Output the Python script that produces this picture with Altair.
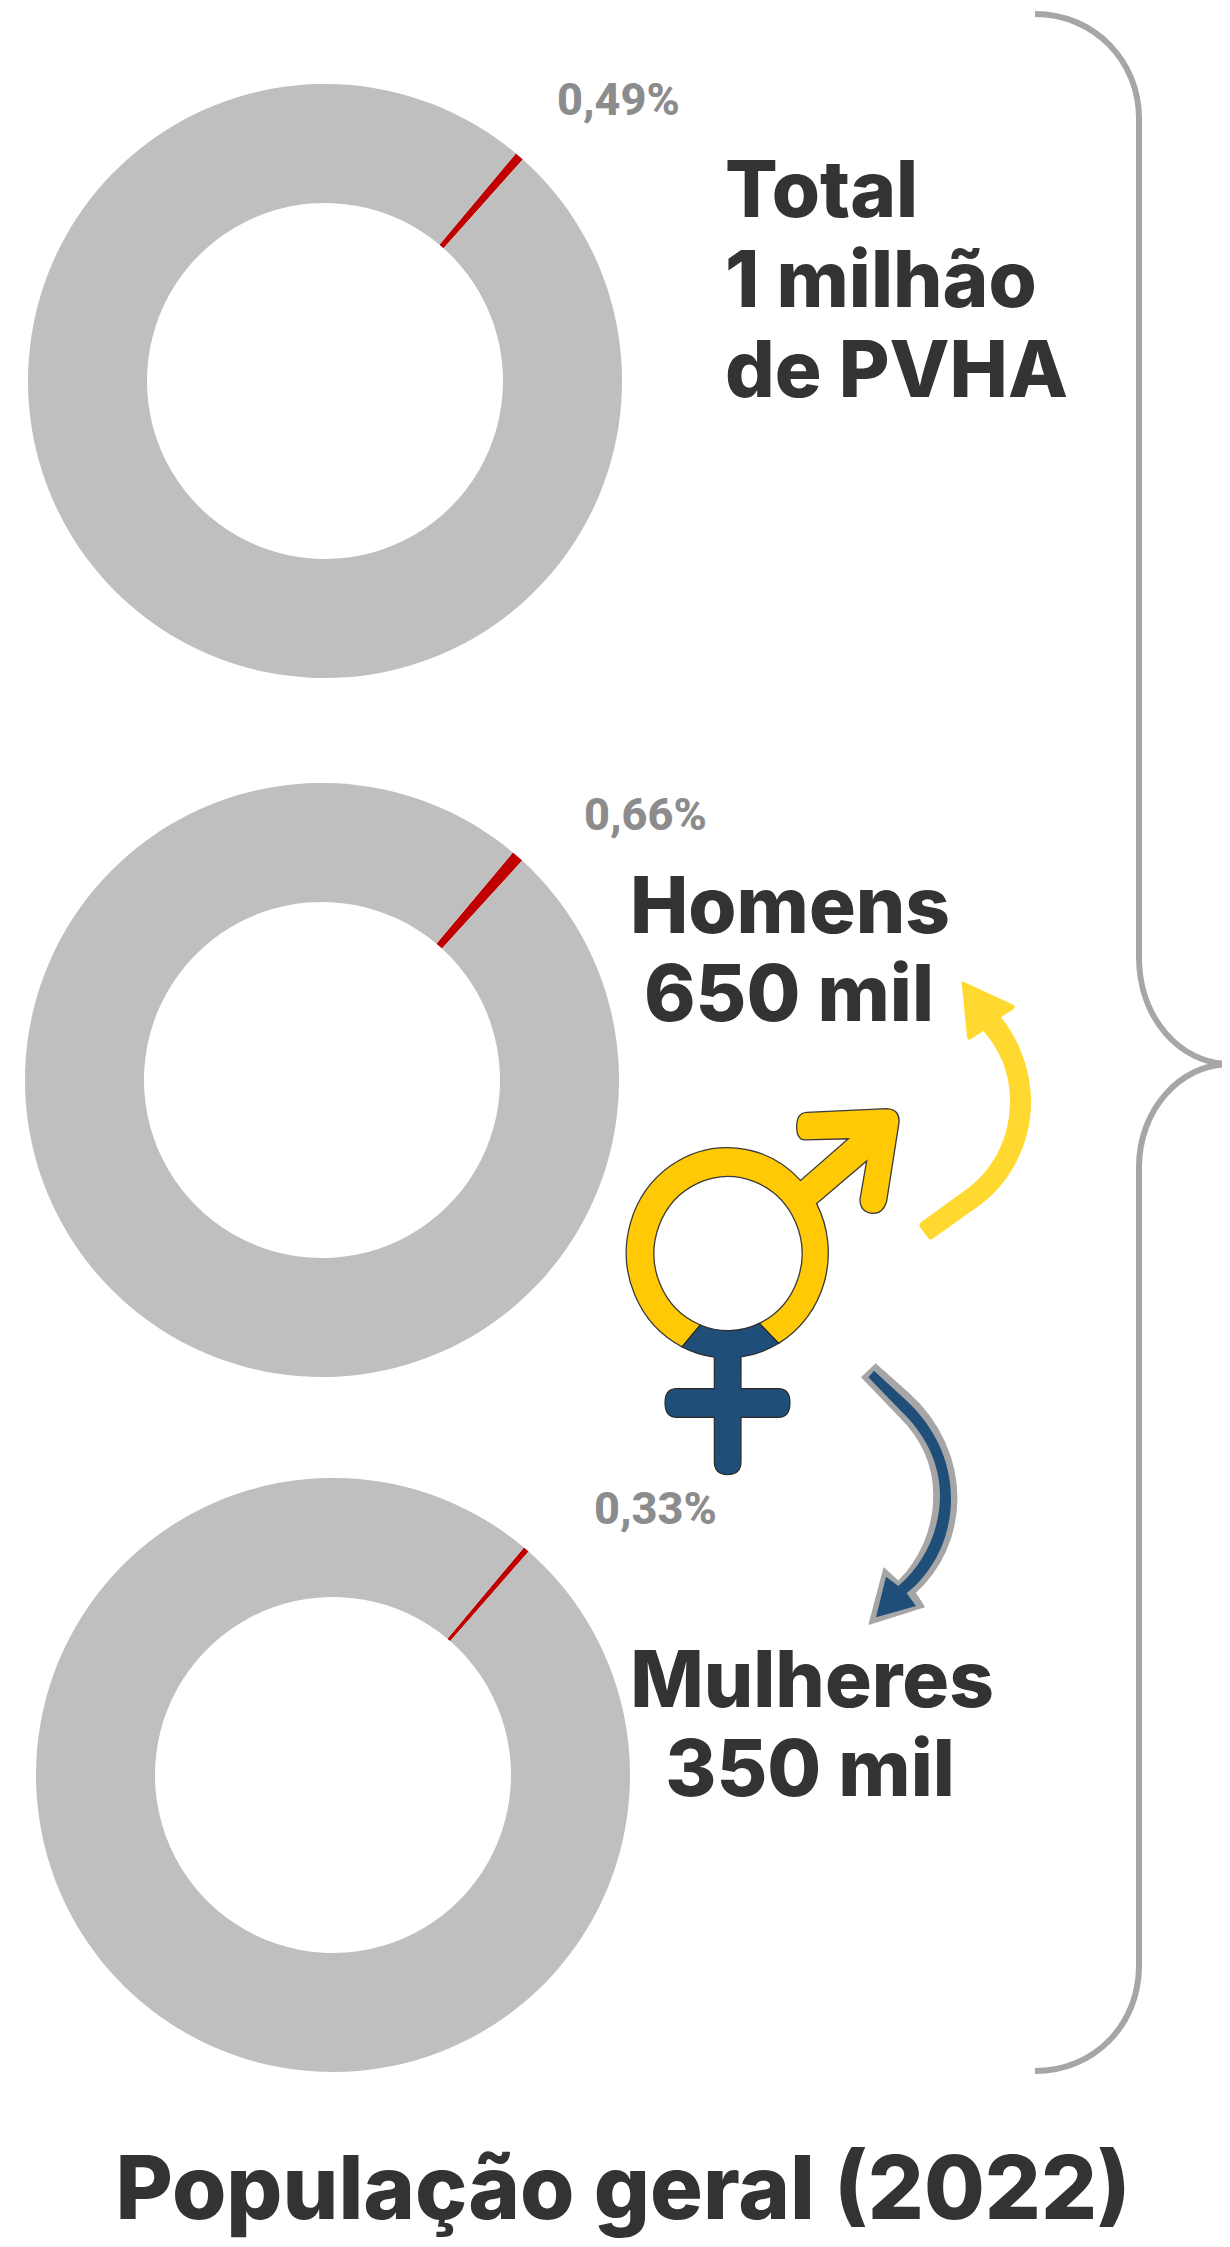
import math
import re
import altair as alt
import pandas as pd

# ---- values
groups = ["Total", "Homens", "Mulheres"]
shares = [0.49, 0.66, 0.33]
share_labels = ["0,49%", "0,66%", "0,33%"]
part_names = ["HIV", "Restante"]

donut_x = [325, 322, 333]
donut_y = [381, 1080, 1775]
label_x = [557, 584, 594]
label_y = [115, 830, 1524]

head_lines = ["Total", "1 milhão", "de PVHA"]
head_x = [725, 725, 725]
head_y = [217, 307, 397]
side_lines = ["Homens", "650 mil", "Mulheres", "350 mil"]
side_x = [790, 789, 812, 810]
side_y = [933, 1021, 1707, 1796]
footer = ["População geral (2022)"]

START_DEG = 40
OUTER, INNER = 297, 178
HEAD_FONT = "Inter"
HEAD_SIZE = 78
FOOT_SIZE = 88


# ---- decoration outlines (page pixels)
def remap(path, ox, oy, sx, sy):
    n = {"i": 0}

    def sub(m):
        v = float(m.group(0))
        r = ox + v / sx if n["i"] % 2 == 0 else oy + v / sy
        n["i"] += 1
        return f"{r:.2f}"

    return re.sub(r"-?\d+\.?\d*", sub, path)


def arc(cx, cy, rx, ry, a0, a1, move=None):
    a0, a1 = math.radians(a0), math.radians(a1)
    steps = max(1, math.ceil(abs(a1 - a0) / (math.pi / 4)))
    da = (a1 - a0) / steps
    k = 4 / 3 * math.tan(da / 4)
    head = ""
    if move:
        head = f"{move}{cx + rx * math.cos(a0):.2f} {cy + ry * math.sin(a0):.2f} "
    parts = [head]
    for i in range(steps):
        t0, t1 = a0 + i * da, a0 + (i + 1) * da
        parts.append(
            "C{:.2f} {:.2f} {:.2f} {:.2f} {:.2f} {:.2f} ".format(
                cx + rx * (math.cos(t0) - k * math.sin(t0)),
                cy + ry * (math.sin(t0) + k * math.cos(t0)),
                cx + rx * (math.cos(t1) + k * math.sin(t1)),
                cy + ry * (math.sin(t1) - k * math.cos(t1)),
                cx + rx * math.cos(t1),
                cy + ry * math.sin(t1),
            )
        )
    return "".join(parts)


SX, SY = 3, 1568 / 600
z = lambda p: remap(p, 600, 1050, SX, SY)
OC = (727.3, 1252.8, 101, 105.2)
IC = (728, 1253.6, 74, 77)

YELLOW_GLYPH = (
    arc(*OC, -28, 59.4, "M")
    + arc(*IC, 65, -248, "L")
    + arc(*OC, 116.6, 316.5, "L")
    + z(
        "L745 232 L615 235 Q590 235 590 200 Q590 165 620 163 L860 153 Q900 155 897 190 "
        "L860 395 Q850 427 820 427 Q780 425 780 390 L800 290 L652 400 "
    )
    + "Z"
)
BLUE_GLYPH = (
    arc(*OC, 59.4, 82.2, "M")
    + z(
        "L423 885 L535 885 Q570 885 570 922 Q570 960 535 960 L423 960 L423 1075 "
        "Q423 1110 383 1110 Q343 1110 343 1075 L343 960 L230 960 Q195 960 195 922 "
        "Q195 885 230 885 L343 885 "
    )
    + arc(*OC, 97.4, 116.6, "L")
    + arc(*IC, 112, 65, "L")
    + "Z"
)
BLUE_ARROW_EDGE = remap(
    "M36 82 L77 43 L175 130 C270 215 320 330 320 445 C320 560 270 660 195 728 L222 770 "
    "L58 822 L102 655 L145 695 C210 630 252 540 252 435 C252 345 215 265 150 200 Z",
    850, 1350, 3, 3,
)
BLUE_ARROW = remap(
    "M55 82 L72 62 L165 148 C255 230 303 335 303 445 C303 565 250 665 170 730 L198 768 "
    "L78 802 L108 680 L145 708 C225 640 270 540 270 435 C270 340 225 250 150 180 Z",
    850, 1350, 3, 3,
)
YELLOW_ARROW = remap(
    "M185 68 Q180 62 192 66 L340 134 Q348 140 342 146 L303 172 C365 250 393 340 393 430 "
    "C393 550 330 670 240 735 L100 835 Q90 842 85 835 L60 802 Q55 792 65 785 L210 680 "
    "C285 620 330 530 330 420 C330 340 300 270 250 213 L212 238 Q203 243 201 232 Z",
    900, 960, 3, 3,
)
BRACE = (
    "M1035 14 C1095 14 1139 62 1139 118 L1139 957 C1139 1018 1180 1064 1230 1064 "
    "C1180 1064 1139 1110 1139 1167 L1139 1966 C1139 2024 1095 2071 1035 2071"
)

X = alt.Scale(domain=[8, 1222], range=[0, 1214])
Y = alt.Scale(domain=[8, 2239], range=[0, 2231])
THETA = alt.Scale(
    domain=[0, 100],
    range=[math.radians(START_DEG), math.radians(START_DEG) + 2 * math.pi],
)
ANCHOR = alt.Data(values=[{"a": 1}])


def decor(path, **kw):
    return alt.Chart(ANCHOR).mark_point(shape=path, size=4, opacity=1, **kw).encode(
        x=alt.value(-8), y=alt.value(-8)
    )


layers = []
for g, s, cx, cy in zip(groups, shares, donut_x, donut_y):
    d = pd.DataFrame(
        {
            "grupo": g,
            "parte": part_names,
            "ordem": [0, 1],
            "valor": [s, 100 - s],
            "cx": cx,
            "cy": cy,
        }
    )
    layers.append(
        alt.Chart(d)
        .mark_arc(radius=OUTER, radius2=INNER, stroke=None)
        .encode(
            x=alt.X("cx:Q", scale=X, axis=None),
            y=alt.Y("cy:Q", scale=Y, axis=None),
            theta=alt.Theta("valor:Q", stack=True, scale=THETA),
            order=alt.Order("ordem:O"),
            color=alt.Color(
                "parte:N",
                scale=alt.Scale(domain=part_names, range=["#C00000", "#BFBFBF"]),
                legend=None,
            ),
        )
    )


def text_layer(lines, xs, ys, **kw):
    d = pd.DataFrame({"t": lines, "x": xs, "y": ys})
    return (
        alt.Chart(d)
        .mark_text(baseline="alphabetic", **kw)
        .encode(
            x=alt.X("x:Q", scale=X, axis=None),
            y=alt.Y("y:Q", scale=Y, axis=None),
            text="t:N",
        )
    )


layers += [
    text_layer(share_labels, label_x, label_y, align="left", font="Roboto",
               fontWeight=800, fontSize=45, color="#8C8C8C"),
    text_layer(head_lines, head_x, head_y, align="left", font=HEAD_FONT,
               fontWeight=800, fontSize=HEAD_SIZE, color="#333333"),
    text_layer(side_lines, side_x, side_y, align="center", font=HEAD_FONT,
               fontWeight=800, fontSize=HEAD_SIZE, color="#333333"),
    text_layer(footer, [623], [2219], align="center", font=HEAD_FONT,
               fontWeight=800, fontSize=FOOT_SIZE, color="#333333"),
    decor(BRACE, filled=False, stroke="#A6A6A6", strokeWidth=6),
    decor(YELLOW_ARROW, filled=True, fill="#FFD92F", stroke=None),
    decor(BLUE_ARROW_EDGE, filled=True, fill="#A6A6A6", stroke="#A6A6A6", strokeWidth=1.5,
          strokeJoin="round"),
    decor(BLUE_ARROW, filled=True, fill="#1F4E79", stroke=None),
    decor(YELLOW_GLYPH, filled=True, fill="#FFC905", stroke="#3A3A3A", strokeWidth=1.3),
    decor(BLUE_GLYPH, filled=True, fill="#1F4E79", stroke="#2A2A2A", strokeWidth=1.2),
]

chart = (
    alt.layer(*layers)
    .resolve_scale(color="independent")
    .properties(
        width=1214,
        height=2231,
        padding=0,
        autosize=alt.AutoSizeParams(type="none"),
        background="white",
    )
    .configure_view(stroke=None)
)
chart.save("out.html", embed_options={"renderer": "svg", "actions": False})
